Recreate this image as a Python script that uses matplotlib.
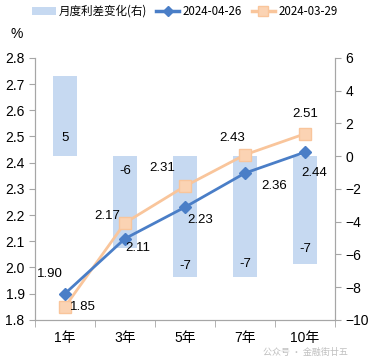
import matplotlib.pyplot as plt
from matplotlib.lines import Line2D
from matplotlib.patches import Patch

plt.rcParams['font.family'] = ['Liberation Sans', 'Noto Sans CJK SC', 'DejaVu Sans']

# data
tenors = ["1年", "3年", "5年", "7年", "10年"]
spread_change = [4.9, -5.6, -7.4, -7.4, -6.6]   # right axis, bp
rate_0426 = [1.90, 2.11, 2.23, 2.36, 2.44]
rate_0329 = [1.85, 2.17, 2.31, 2.43, 2.51]
legend_labels = ["月度利差变化(右)", "2024-04-26", "2024-03-29"]

bar_color = "#C6D9F1"
blue = "#4A7EC7"
orange = "#F9C59B"
orange_face = "#FBD3B3"
axis_gray = "#A6A6A6"

fig = plt.figure(figsize=(3.68, 3.57), dpi=100)
ax = fig.add_axes([0.095, 0.104, 0.815, 0.734])
ax2 = ax.twinx()

x = list(range(len(tenors)))

# bars on right axis, drawn behind lines
ax2.bar(x, spread_change, width=0.4, color=bar_color, zorder=1)
ax2.set_ylim(-10, 6)
ax2.set_yticks(range(-10, 7, 2))

ax.set_zorder(ax2.get_zorder() + 1)
ax.patch.set_visible(False)

ax.plot(x, rate_0426, color=blue, lw=2, marker="D", ms=6, mfc=blue, mec=blue, zorder=3)
ax.plot(x, rate_0329, color=orange, lw=2, marker="s", ms=8, mfc=orange_face, mec=orange, zorder=2)
ax.set_ylim(1.8, 2.8)
ax.set_yticks([1.8 + 0.1 * i for i in range(11)])
ax.set_yticklabels([f"{1.8 + 0.1 * i:.1f}" for i in range(11)])
ax.set_xlim(-0.5, len(tenors) - 0.5)
ax.set_xticks(x)
ax.set_xticklabels(tenors, family=["Liberation Sans", "Noto Sans CJK SC"])
ax.set_xticks([i - 0.5 for i in range(len(tenors) + 1)], minor=True)

for a in (ax, ax2):
    a.spines["top"].set_visible(False)
    for s in ("left", "right", "bottom"):
        a.spines[s].set_color(axis_gray)
ax.tick_params(axis="x", which="major", length=0, labelsize=10, pad=8)
ax.tick_params(axis="x", which="minor", length=5, color=axis_gray, direction="out")
ax.tick_params(axis="y", length=4, color=axis_gray, labelsize=10)
ax2.tick_params(axis="y", length=4, color=axis_gray, labelsize=10)

# value labels
blue_off = [(-11, 14), (9, -6.5), (11, -9), (21, -9), (7, -15)]
orange_off = [(13, 0), (-13, 5), (-16, 13), (-9, 12), (0, 14)]
for i in x:
    ax.annotate(f"{rate_0426[i]:.2f}", (i, rate_0426[i]), xytext=blue_off[i],
                textcoords="offset points", ha="center", va="center", fontsize=9.5)
    ax.annotate(f"{rate_0329[i]:.2f}", (i, rate_0329[i]), xytext=orange_off[i],
                textcoords="offset points", ha="center", va="center", fontsize=9.5)

bar_label_y = [1.1, -0.9, -6.7, -6.6, -5.7]
for i in x:
    ax2.text(i, bar_label_y[i], f"{spread_change[i]:.0f}", ha="center", va="center", fontsize=9.5)

fig.text(0.045, 0.905, "%", fontsize=10, ha="center", va="center")

handles = [
    Patch(facecolor=bar_color, edgecolor="none"),
    Line2D([], [], color=blue, lw=2.5, marker="D", ms=5),
    Line2D([], [], color=orange, lw=2.5, marker="s", ms=7, mfc=orange_face),
]
fig.legend(handles, legend_labels, loc="upper left", bbox_to_anchor=(0.06, 1.015), ncol=3,
           frameon=False, handlelength=2.0, handletextpad=0.3, columnspacing=0.8,
           prop={"family": ["Noto Sans CJK SC", "DejaVu Sans"], "size": 8.3})

fig.text(0.83, 0.012, "公众号 · 金融街廿五", fontsize=6.5, color="#B0B0B0", alpha=0.8,
         ha="center", va="center", family=["Noto Sans CJK SC", "DejaVu Sans"])

fig.savefig("out.png", dpi=100)
